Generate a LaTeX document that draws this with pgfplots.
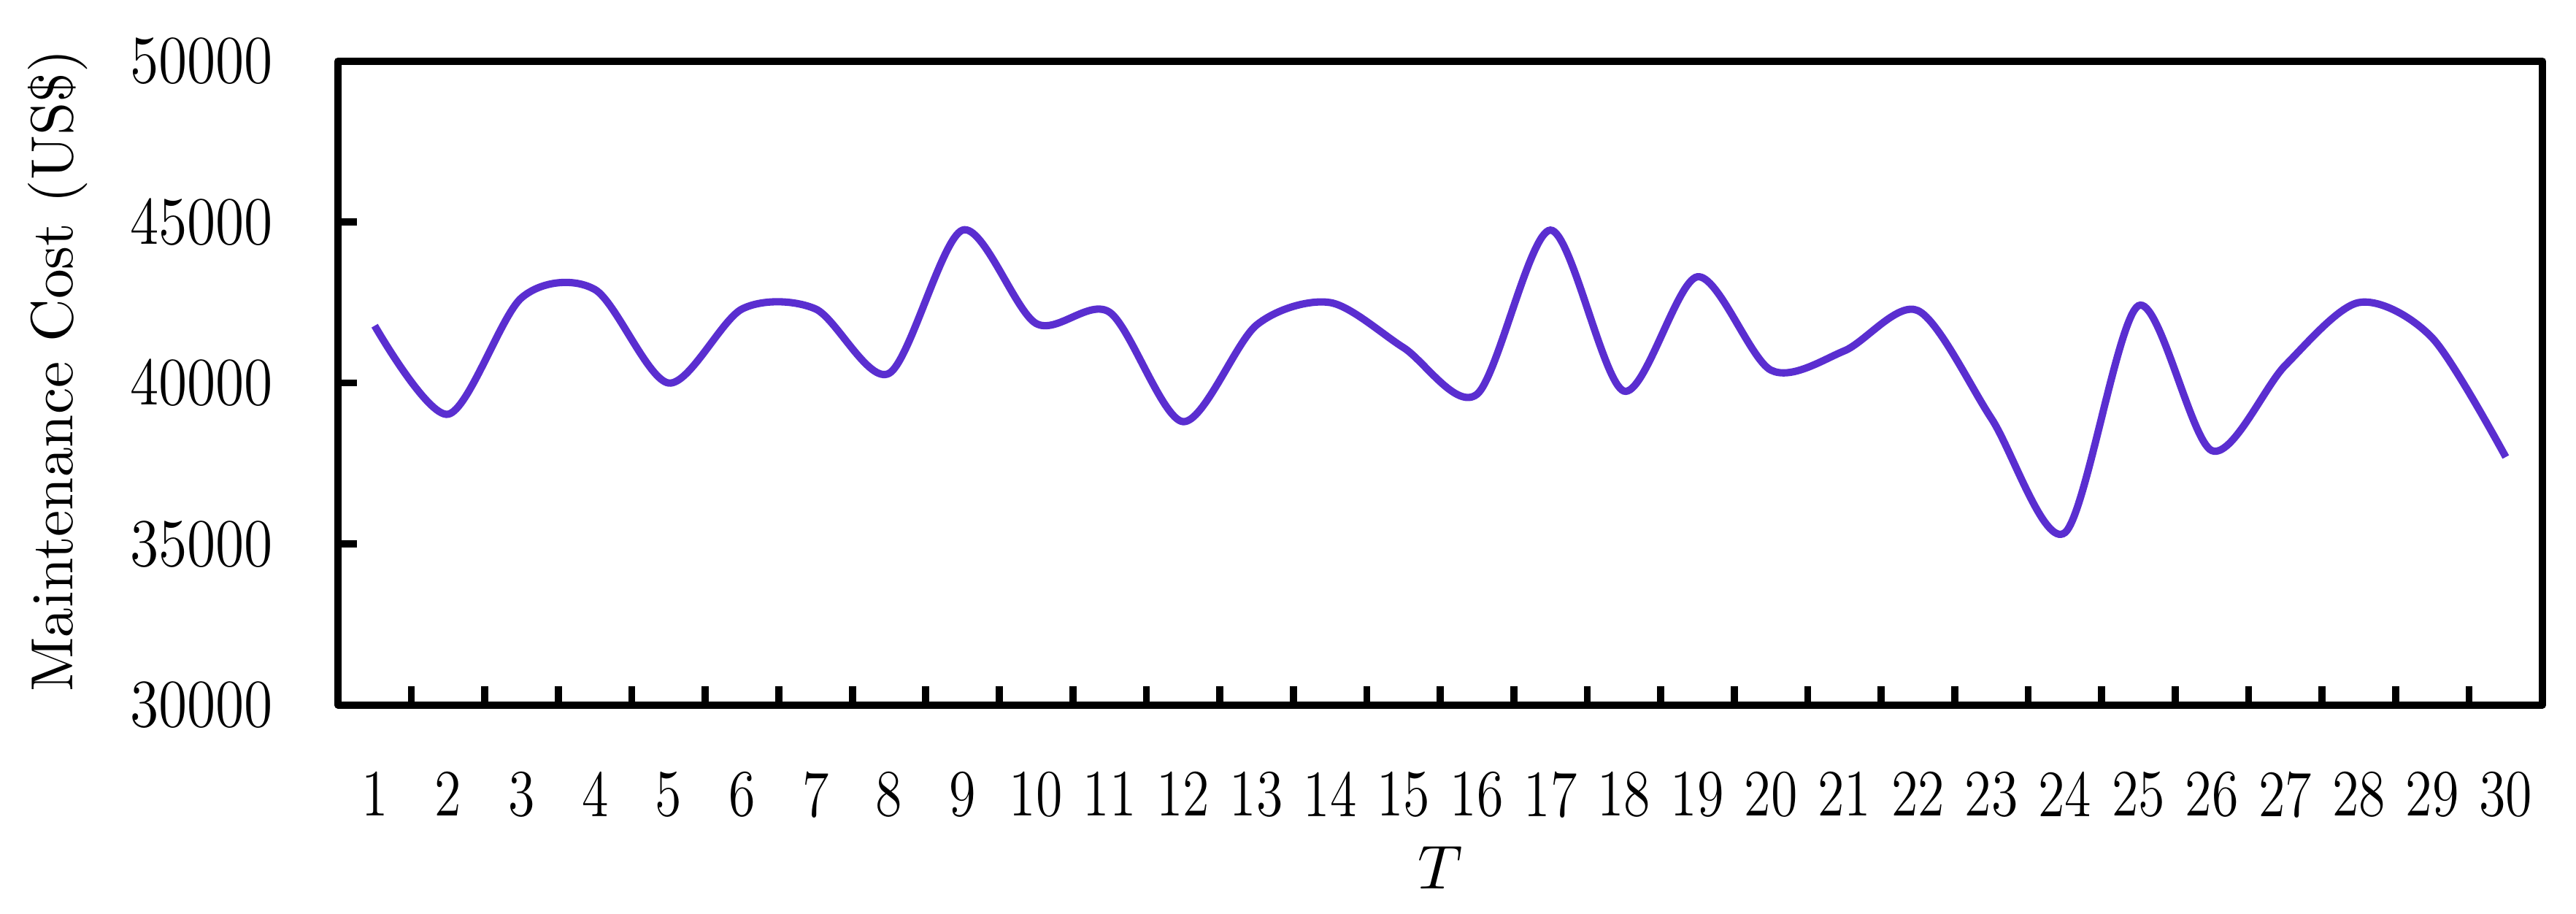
\documentclass[border=0pt]{standalone}
\usepackage{graphicx}
\usepackage{pgfplots}
\pgfplotsset{compat=1.18}
\definecolor{curve}{RGB}{90,46,208}
\begin{document}
\begin{tikzpicture}
\begin{axis}[
  name=ax, scale only axis,
  width=13.70cm, height=4.0cm,
  xmin=0.5, xmax=30.5, ymin=30000, ymax=50000,
  xtick={1.5,2.5,...,30.5},
  xticklabel={\scalebox{0.82}[1]{\pgfmathtruncatemacro\lab{round(\tick-0.5)}\lab}},
  xticklabel style={anchor=north, inner sep=0pt, xshift=-0.22833cm, yshift=-0.408cm, font=\fontsize{11.7}{14}\selectfont},
  ytick={30000,35000,...,50000},
  /pgf/number format/1000 sep={},
  scaled y ticks=false,
  yticklabel={\scalebox{0.86}[1]{\pgfmathprintnumber{\tick}}},
  yticklabel style={anchor=east, inner sep=0pt, xshift=-0.397cm, font=\fontsize{11.7}{14}\selectfont},
  tick align=inside, xtick pos=bottom, ytick pos=left,
  major tick length=3.3pt,
  tick style={black, line width=1.25pt},
  axis line style={line width=1.3pt, line join=round},
  xlabel={$T$},
  xlabel style={at={(axis description cs:0.5,-0.2525)}, anchor=center, font=\fontsize{11}{13}\selectfont},
  ylabel={Maintenance Cost (US\$)},
  ylabel style={at={(axis description cs:-0.127,0.519)}, anchor=center, font=\fontsize{10.5}{12}\selectfont},
]
\addplot[curve, line width=1.3pt, smooth, tension=0.5, no marks] coordinates {
(1,41780) (2,39030) (3,42650) (4,42900) (5,40000) (6,42300) (7,42300) (8,40300) (9,44750) (10,41850)
(11,42200) (12,38800) (13,41800) (14,42500) (15,41100) (16,39650) (17,44750) (18,39750) (19,43300) (20,40400)
(21,41000) (22,42250) (23,38900) (24,35350) (25,42400) (26,37900) (27,40550) (28,42500) (29,41400) (30,37700)
};
\end{axis}
\pgfresetboundingbox
\path ([shift={(-2.10cm,-1.296cm)}]ax.south west) rectangle ([shift={(0.208cm,0.38cm)}]ax.north east);
\end{tikzpicture}
\end{document}
